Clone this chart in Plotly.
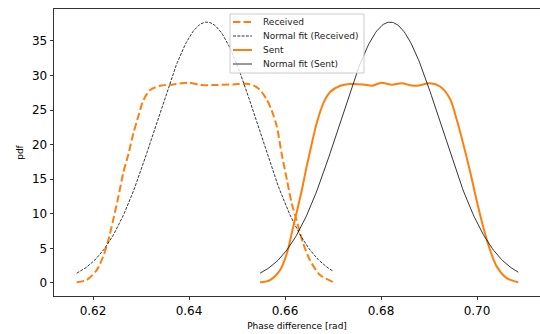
import numpy as np
import plotly.graph_objects as go

# Kernel density estimate of the received phase difference
recv_x = [0.6166, 0.6187, 0.6208, 0.6221, 0.6232, 0.6242, 0.6253, 0.6263, 0.6274,
          0.6284, 0.6294, 0.6305, 0.6319, 0.6340, 0.6367, 0.6400, 0.6425, 0.6450,
          0.6492, 0.6520, 0.6536, 0.6548, 0.6562, 0.6572, 0.6583, 0.6593, 0.6604,
          0.6614, 0.6624, 0.6638, 0.6652, 0.6673, 0.6701]
recv_pdf = [0.1, 0.45, 1.9, 3.8, 6.2, 9.1, 12.5, 15.9, 18.7,
            21.6, 24.0, 26.4, 27.9, 28.5, 28.7, 28.95, 28.6, 28.6,
            28.7, 28.8, 28.5, 27.9, 26.5, 25.0, 22.6, 18.7, 14.9,
            11.5, 9.1, 5.7, 3.3, 1.16, 0.1]

# Kernel density estimate of the sent phase difference
sent_x = [0.6548, 0.6569, 0.6590, 0.6604, 0.6614, 0.6624, 0.6635, 0.6645, 0.6656,
          0.6666, 0.6680, 0.6694, 0.6715, 0.6735, 0.6763, 0.6781, 0.6801, 0.6822,
          0.6843, 0.6860, 0.6874, 0.6902, 0.6923, 0.6944, 0.6958, 0.6971, 0.6985,
          0.6999, 0.7013, 0.7027, 0.7041, 0.7062, 0.7086]
sent_pdf = [0.1, 0.43, 1.9, 4.3, 7.2, 10.1, 13.4, 16.8, 20.2,
            23.1, 26.0, 27.6, 28.5, 28.76, 28.7, 28.5, 28.95, 28.66,
            28.86, 28.6, 28.5, 28.86, 28.4, 26.6, 23.55, 20.2, 16.3,
            12.0, 8.1, 4.8, 2.4, 0.7, 0.1]

# Fitted normal distribution parameters
recv_mu, recv_sigma = 0.6437, 0.01058
sent_mu, sent_sigma = 0.6819, 0.01058

x_ticks = [0.62, 0.64, 0.66, 0.68, 0.70]
y_ticks = [0, 5, 10, 15, 20, 25, 30, 35]

legend_labels = ["Received", "Normal fit (Received)", "Sent", "Normal fit (Sent)"]


def normal_pdf(x, mu, sigma):
    return np.exp(-0.5 * ((x - mu) / sigma) ** 2) / (sigma * np.sqrt(2 * np.pi))


recv_fit_x = np.linspace(recv_x[0], recv_x[-1], 200)
sent_fit_x = np.linspace(sent_x[0], sent_x[-1], 200)

ORANGE = "#ff7f0e"
FONT = "DejaVu Sans"
RECV_DASH = "7.4px,3.2px"
FIT_DASH = "3px,1.3px"

W, H = 540, 334
M_L, M_R, M_T, M_B = 54, 0, 9, 38
PLOT_W = W - M_L - M_R
PLOT_H = H - M_T - M_B


def px_to_paper(px, py):
    """Convert page pixel coordinates to paper coordinates of the plot area."""
    return (px - M_L) / PLOT_W, (H - M_B - py) / PLOT_H


styles = [
    dict(color=ORANGE, width=2, dash=RECV_DASH),
    dict(color="black", width=0.8, dash=FIT_DASH),
    dict(color=ORANGE, width=2),
    dict(color="black", width=0.8),
]

fig = go.Figure()
fig.add_trace(go.Scatter(
    x=recv_x, y=recv_pdf, mode="lines", name=legend_labels[0],
    line=dict(**styles[0], shape="spline", smoothing=0.8)))
fig.add_trace(go.Scatter(
    x=recv_fit_x, y=normal_pdf(recv_fit_x, recv_mu, recv_sigma), mode="lines",
    name=legend_labels[1], line=styles[1]))
fig.add_trace(go.Scatter(
    x=sent_x, y=sent_pdf, mode="lines", name=legend_labels[2],
    line=dict(**styles[2], shape="spline", smoothing=0.8)))
fig.add_trace(go.Scatter(
    x=sent_fit_x, y=normal_pdf(sent_fit_x, sent_mu, sent_sigma), mode="lines",
    name=legend_labels[3], line=styles[3]))

# Compact legend box with line samples and labels
shapes = []
annotations = []
bx0, by0 = px_to_paper(230, 73)
bx1, by1 = px_to_paper(364, 14)
shapes.append(dict(type="rect", xref="paper", yref="paper",
                   x0=bx0, x1=bx1, y0=by0, y1=by1,
                   fillcolor="rgba(255,255,255,0.8)",
                   line=dict(color="#cccccc", width=1), layer="above"))
for i, (label, style) in enumerate(zip(legend_labels, styles)):
    row_y = 22 + 14 * i
    lx0, ly = px_to_paper(233, row_y)
    lx1, _ = px_to_paper(252, row_y)
    shapes.append(dict(type="line", xref="paper", yref="paper",
                       x0=lx0, x1=lx1, y0=ly, y1=ly, line=style, layer="above"))
    tx, _ = px_to_paper(261, row_y)
    annotations.append(dict(xref="paper", yref="paper", x=tx, y=ly,
                            xanchor="left", yanchor="middle", showarrow=False,
                            text=label, font=dict(family=FONT, size=9, color="#222")))

fig.update_layout(
    width=W, height=H,
    margin=dict(l=M_L, r=M_R, t=M_T, b=M_B),
    paper_bgcolor="white", plot_bgcolor="white",
    font=dict(family=FONT, color="black"),
    showlegend=False,
    shapes=shapes,
    annotations=annotations,
    xaxis=dict(
        range=[0.611875, 0.713125], tickvals=x_ticks,
        ticktext=[f"{v:.2f}" for v in x_ticks],
        ticks="outside", ticklen=3.5, tickwidth=0.8, tickcolor="#333",
        tickfont=dict(size=12),
        showline=True, linecolor="#333", linewidth=0.8, mirror=True,
        showgrid=False, zeroline=False, automargin=False,
        title=dict(text="Phase difference [rad]", font=dict(size=9), standoff=5),
    ),
    yaxis=dict(
        range=[-1.88, 39.6], tickvals=y_ticks,
        ticks="outside", ticklen=3.5, tickwidth=0.8, tickcolor="#333",
        tickfont=dict(size=12),
        showline=True, linecolor="#333", linewidth=0.8, mirror=False,
        showgrid=False, zeroline=False, automargin=False,
        title=dict(text="pdf", font=dict(size=9), standoff=6),
    ),
)

fig.write_html("out.html")
